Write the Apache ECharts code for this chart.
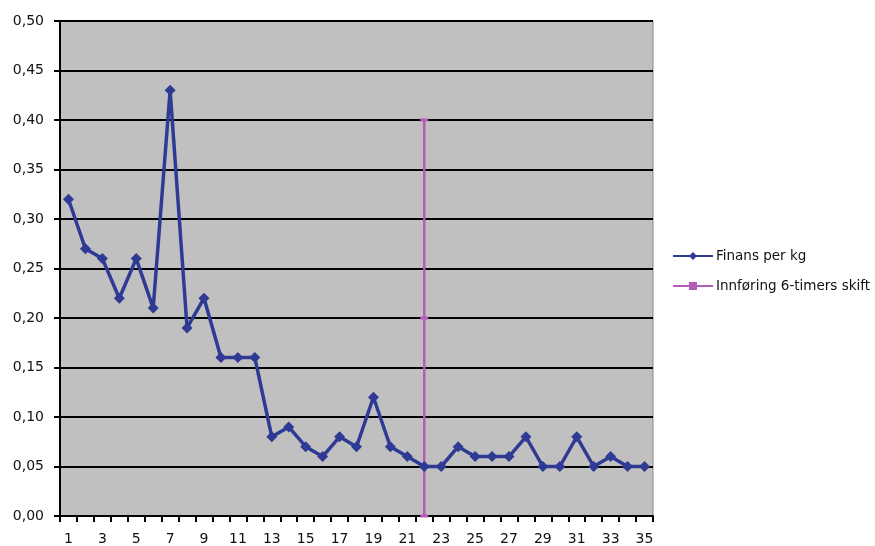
<!DOCTYPE html>
<html>
<head>
<meta charset="utf-8">
<script src="https://cdn.jsdelivr.net/npm/echarts@6/dist/echarts.min.js"></script>
<style>
  html, body { margin: 0; padding: 0; background: #fff; }
  #chart { width: 875px; height: 546px; }
</style>
</head>
<body>
<div id="chart"></div>
<script>
// kategorier 1..35
var categories = ["1","2","3","4","5","6","7","8","9","10","11","12","13","14","15","16","17","18",
  "19","20","21","22","23","24","25","26","27","28","29","30","31","32","33","34","35"];
var finansPerKg = [0.32, 0.27, 0.26, 0.22, 0.26, 0.21, 0.43, 0.19, 0.22, 0.16, 0.16, 0.16,
  0.08, 0.09, 0.07, 0.06, 0.08, 0.07, 0.12, 0.07, 0.06, 0.05, 0.05, 0.07, 0.06, 0.06,
  0.06, 0.08, 0.05, 0.05, 0.08, 0.05, 0.06, 0.05, 0.05];
// innføring 6-timers skift (vertikal linje)
var skiftX = "22";
var skiftY = [0, 0.2, 0.4];

var myChart = echarts.init(document.getElementById("chart"));
var option = {
  animation: false,
  textStyle: { fontFamily: "DejaVu Sans, sans-serif" },
  grid: {
    left: 60, right: 222, top: 21, bottom: 28,
    show: true,
    backgroundColor: "#c0c0c0",
    borderColor: "#8a8a8a",
    borderWidth: 1
  },
  legend: {
    orient: "vertical",
    left: 672,
    top: 249,
    itemWidth: 40,
    itemHeight: 10,
    itemGap: 16,
    padding: 0,
    textStyle: { color: "#111", fontSize: 13.5, padding: [0, 0, 0, -2] },
    data: ["Finans per kg", "Innføring 6-timers skift"]
  },
  xAxis: {
    type: "category",
    data: categories,
    boundaryGap: true,
    axisLine: { lineStyle: { color: "#000", width: 2 } },
    axisTick: { show: true, interval: 0, length: 6, lineStyle: { color: "#000", width: 2 } },
    axisLabel: { interval: 1, color: "#111", fontSize: 14, margin: 16 },
    splitLine: { show: false }
  },
  yAxis: {
    type: "value",
    min: 0,
    max: 0.5,
    interval: 0.05,
    axisLine: { show: true, lineStyle: { color: "#000", width: 2 } },
    axisTick: { show: true, length: 6, lineStyle: { color: "#000", width: 2 } },
    axisLabel: {
      color: "#111", fontSize: 14, margin: 16,
      formatter: function (v) { return v.toFixed(2).replace(".", ","); }
    },
    splitLine: { lineStyle: { color: "#000", width: 2 } }
  },
  series: [
    {
      name: "Finans per kg",
      type: "line",
      data: finansPerKg,
      symbol: "diamond",
      symbolSize: 11,
      color: "#2e3a94",
      lineStyle: { width: 3.5, color: "#2e3a94" },
      itemStyle: { color: "#2e3a94" },
      z: 3
    },
    {
      name: "Innføring 6-timers skift",
      type: "line",
      data: skiftY.map(function (y) { return [skiftX, y]; }),
      symbol: "rect",
      symbolSize: [8, 3],
      color: "#b45cb8",
      lineStyle: { width: 2.5, color: "#b45cb8" },
      itemStyle: { color: "#b45cb8" },
      z: 2
    }
  ]
};
myChart.setOption(option);
</script>
</body>
</html>
